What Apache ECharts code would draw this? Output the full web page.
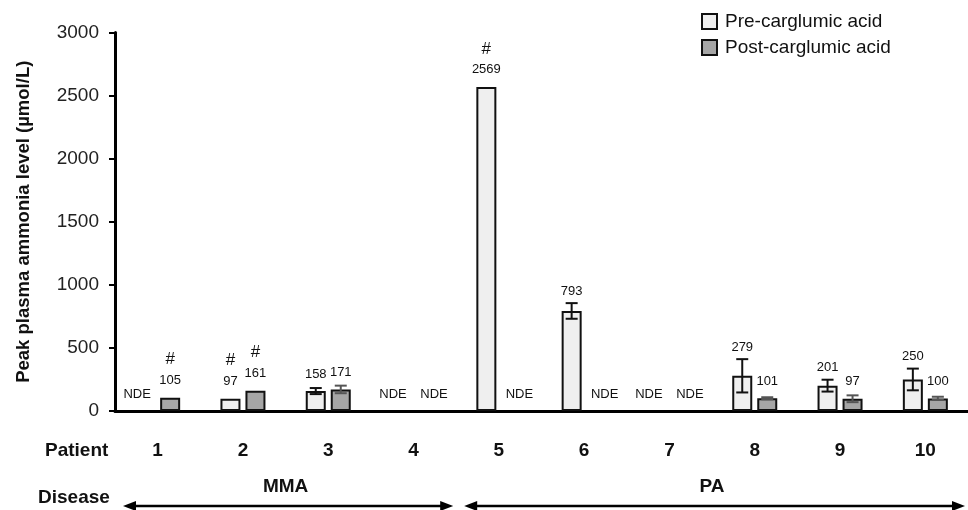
<!DOCTYPE html>
<html>
<head>
<meta charset="utf-8">
<script src="https://cdn.jsdelivr.net/npm/echarts@6/dist/echarts.min.js"></script>
<style>
html, body { margin: 0; padding: 0; background: #fff; }
#chart { width: 968px; height: 510px; }
</style>
</head>
<body>
<div id="chart"></div>
<script>
var patients = ['1', '2', '3', '4', '5', '6', '7', '8', '9', '10'];
var preValues = [null, 97, 158, null, 2569, 793, null, 279, 201, 250];
var postValues = [105, 161, 171, null, null, null, null, 101, 97, 100];
var preErr = [0, 0, 24, 0, 0, 62, 0, 132, 47, 86];
var postErr = [0, 0, 30, 0, 0, 0, 0, 8, 27, 13];
// '#' marks over the value label
var preMark = [false, true, false, false, true, false, false, false, false, false];
var postMark = [true, true, false, false, false, false, false, false, false, false];
var diseases = ['MMA', 'PA'];
var diseaseFrom = [0, 4];
var diseaseTo = [3, 9];

var FONT = '"Liberation Sans", Arial, sans-serif';
var chart = echarts.init(document.getElementById('chart'));

// labels, NDE and error bars for one series (side: -1 pre, +1 post)
function overlay(values, errs, marks, side, errColor) {
	return function (params, api) {
		var i = params.dataIndex;
		var x = api.coord([i, 0])[0] + side * 12.5;
		var y0 = api.coord([i, 0])[1];
		var kids = [];
		var v = values[i];
		if (v == null) {
			kids.push({
				type: 'text',
				style: { text: 'NDE', x: x + side * 8, y: y0 - 17, align: 'center', verticalAlign: 'middle', fontSize: 13, fill: '#111', fontFamily: FONT }
			});
			return { type: 'group', children: kids };
		}
		var labelY = api.coord([i, v])[1] - 17;
		var e = errs[i];
		if (e > 0) {
			var hi = api.coord([i, v + e])[1];
			var lo = api.coord([i, v - e])[1];
			var ls = { stroke: errColor, lineWidth: 2 };
			kids.push({ type: 'line', shape: { x1: x, y1: hi, x2: x, y2: lo }, style: ls });
			kids.push({ type: 'line', shape: { x1: x - 6, y1: hi, x2: x + 6, y2: hi }, style: ls });
			kids.push({ type: 'line', shape: { x1: x - 6, y1: lo, x2: x + 6, y2: lo }, style: ls });
			labelY = Math.min(labelY, hi - 12);
		}
		kids.push({
			type: 'text',
			style: { text: String(v), x: x, y: labelY, align: 'center', verticalAlign: 'middle', fontSize: 13, fill: '#111', fontFamily: FONT }
		});
		if (marks[i]) {
			kids.push({
				type: 'text',
				style: { text: '#', x: x, y: labelY - 21, align: 'center', verticalAlign: 'middle', fontSize: 17, fill: '#111', fontFamily: FONT }
			});
		}
		return { type: 'group', children: kids };
	};
}

function toBar(arr) {
	return arr.map(function (v) { return v == null ? '-' : v; });
}

var option = {
	animation: false,
	textStyle: { fontFamily: FONT },
	legend: {
		orient: 'vertical',
		left: 696,
		top: 7,
		icon: 'rect',
		itemWidth: 15,
		itemHeight: 15,
		itemGap: 7,
		data: ['Pre-carglumic acid', 'Post-carglumic acid'],
		textStyle: { fontSize: 19, color: '#111', padding: [0, 0, 0, 3] }
	},
	grid: { left: 115, right: -3, top: 32.5, bottom: 99 },
	xAxis: {
		type: 'category',
		data: patients,
		axisLine: { lineStyle: { color: '#000', width: 3 } },
		axisTick: { show: false },
		axisLabel: { fontSize: 19, fontWeight: 'bold', color: '#111', margin: 30 }
	},
	yAxis: {
		type: 'value',
		min: 0,
		max: 3000,
		interval: 500,
		name: 'Peak plasma ammonia level (µmol/L)',
		nameLocation: 'middle',
		nameGap: 82,
		nameTextStyle: { fontSize: 18.5, fontWeight: 'bold', color: '#111' },
		axisLine: { show: true, lineStyle: { color: '#000', width: 3 } },
		axisTick: { show: true, length: 6, lineStyle: { color: '#000', width: 2 } },
		axisLabel: { fontSize: 19, color: '#222', margin: 16, formatter: function (v) { return String(v); } },
		splitLine: { show: false }
	},
	series: [{
		name: 'Pre-carglumic acid',
		type: 'bar',
		barWidth: 20,
		barGap: '25%',
		data: toBar(preValues),
		itemStyle: { color: '#efefef', borderColor: '#111', borderWidth: 2 }
	}, {
		name: 'Post-carglumic acid',
		type: 'bar',
		barWidth: 20,
		data: toBar(postValues),
		itemStyle: { color: '#a6a6a6', borderColor: '#111', borderWidth: 2 }
	}, {
		type: 'custom',
		z: 5,
		renderItem: overlay(preValues, preErr, preMark, -1, '#111'),
		data: patients.map(function (p, i) { return [i, 0]; })
	}, {
		type: 'custom',
		z: 5,
		renderItem: overlay(postValues, postErr, postMark, 1, '#555'),
		data: patients.map(function (p, i) { return [i, 0]; })
	}]
};
chart.setOption(option);

// Patient / Disease row captions and disease arrows
var half = (chart.convertToPixel({ xAxisIndex: 0 }, patients[1]) - chart.convertToPixel({ xAxisIndex: 0 }, patients[0])) / 2;
var arrowY = 506;
var graphics = [
	{ type: 'text', left: 45, top: 441, style: { text: 'Patient', fontSize: 19, fontWeight: 'bold', fill: '#111', fontFamily: FONT } },
	{ type: 'text', left: 38, top: 488, style: { text: 'Disease', fontSize: 19, fontWeight: 'bold', fill: '#111', fontFamily: FONT } }
];
for (var d = 0; d < diseases.length; d++) {
	var cFrom = chart.convertToPixel({ xAxisIndex: 0 }, patients[diseaseFrom[d]]);
	var cTo = chart.convertToPixel({ xAxisIndex: 0 }, patients[diseaseTo[d]]);
	var x1 = cFrom - half + 8;
	var x2 = cTo + half - 3;
	graphics.push({ type: 'line', shape: { x1: x1 + 8, y1: arrowY, x2: x2 - 8, y2: arrowY }, style: { stroke: '#000', lineWidth: 2.5 } });
	graphics.push({ type: 'polygon', shape: { points: [[x1, arrowY], [x1 + 13, arrowY - 5], [x1 + 13, arrowY + 5]] }, style: { fill: '#000' } });
	graphics.push({ type: 'polygon', shape: { points: [[x2, arrowY], [x2 - 13, arrowY - 5], [x2 - 13, arrowY + 5]] }, style: { fill: '#000' } });
	graphics.push({
		type: 'text',
		x: (cFrom + cTo) / 2,
		y: 487,
		style: { text: diseases[d], align: 'center', verticalAlign: 'middle', fontSize: 19, fontWeight: 'bold', fill: '#111', fontFamily: FONT }
	});
}
chart.setOption({ graphic: graphics });
</script>
</body>
</html>
